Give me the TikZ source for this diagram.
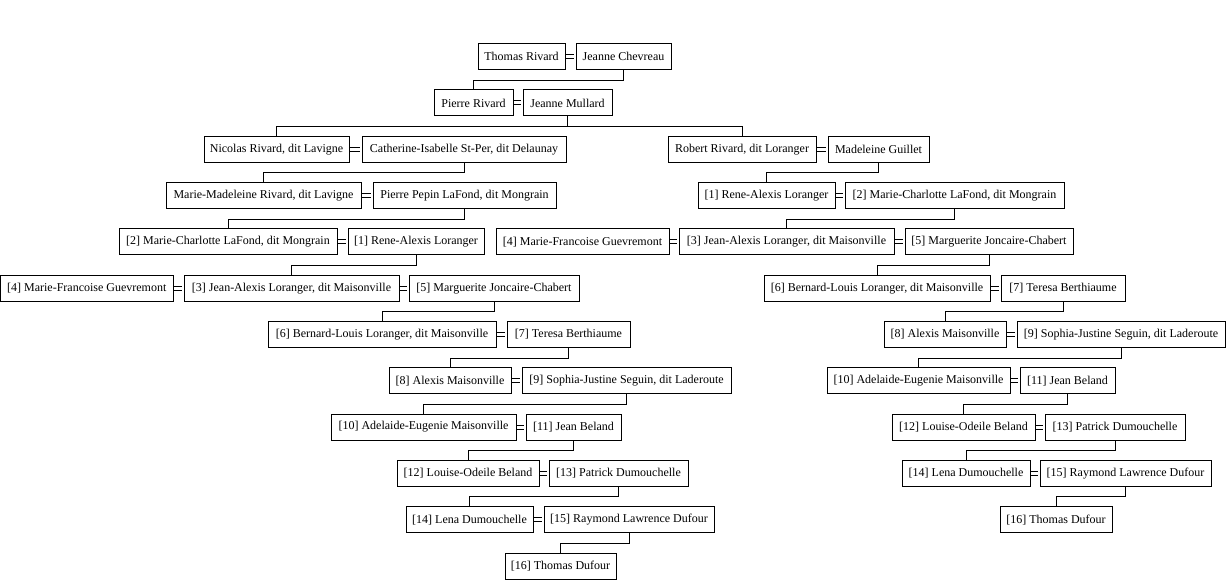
\documentclass[tikz,border=0pt]{standalone}
\usepackage{fontspec}
\setmainfont{Liberation Serif}
\begin{document}
\begin{tikzpicture}[x=1pt,y=-1pt,line width=1pt,
  pbox/.style={draw, line width=1pt, minimum width=#1, minimum height=26pt, inner sep=0pt,
    font=\fontsize{12pt}{14pt}\selectfont, anchor=center},
  marr/.style={double, double distance=3pt, line width=1pt, shorten <=0.5pt, shorten >=2pt},
  link/.style={line width=1pt}]
\useasboundingbox (0,0) rectangle (1228,580);
% row centres: 56.7 + 46.3(r-1)
% Row 1
\node[pbox=87pt] (tr) at (521.5,56.7) {Thomas Rivard};
\node[pbox=95pt] (jc) at (623.5,56.7) {Jeanne Chevreau};
% Row 2
\node[pbox=79pt] (pr) at (473.5,103.0) {Pierre Rivard};
\node[pbox=89pt] (jm) at (567.5,103.0) {Jeanne Mullard};
% Row 3
\node[pbox=145pt] (nr) at (276.5,149.3) {Nicolas Rivard, dit Lavigne};
\node[pbox=204pt] (ci) at (464,149.3) {Catherine-Isabelle St-Per, dit Delaunay};
\node[pbox=148pt] (rr) at (742,149.3) {Robert Rivard, dit Loranger};
\node[pbox=101pt] (mg) at (878.5,149.3) {Madeleine Guillet};
% Row 4
\node[pbox=195pt] (mm) at (263.5,195.6) {Marie-Madeleine Rivard, dit Lavigne};
\node[pbox=183pt] (pp) at (464.5,195.6) {Pierre Pepin LaFond, dit Mongrain};
\node[pbox=137pt] (raA) at (766.5,195.6) {[1] Rene-Alexis Loranger};
\node[pbox=219pt] (mcA) at (954.5,195.6) {[2] Marie-Charlotte LaFond, dit Mongrain};
% Row 5
\node[pbox=218pt] (mcB) at (228,241.9) {[2] Marie-Charlotte LaFond, dit Mongrain};
\node[pbox=136pt] (raB) at (416,241.9) {[1] Rene-Alexis Loranger};
\node[pbox=173pt] (mfA) at (582.5,241.9) {[4] Marie-Francoise Guevremont};
\node[pbox=215pt] (jaA) at (786.5,241.9) {[3] Jean-Alexis Loranger, dit Maisonville};
\node[pbox=168pt] (mjA) at (989,241.9) {[5] Marguerite Joncaire-Chabert};
% Row 6
\node[pbox=172.5pt] (mfB) at (86.75,288.2) {[4] Marie-Francoise Guevremont};
\node[pbox=215pt] (jaB) at (291.5,288.2) {[3] Jean-Alexis Loranger, dit Maisonville};
\node[pbox=170pt] (mjB) at (494,288.2) {[5] Marguerite Joncaire-Chabert};
\node[pbox=226pt] (blA) at (877,288.2) {[6] Bernard-Louis Loranger, dit Maisonville};
\node[pbox=124pt] (tbA) at (1063,288.2) {[7] Teresa Berthiaume};
% Row 7
\node[pbox=228pt] (blB) at (382,334.5) {[6] Bernard-Louis Loranger, dit Maisonville};
\node[pbox=123pt] (tbB) at (568.5,334.5) {[7] Teresa Berthiaume};
\node[pbox=122pt] (amA) at (945,334.5) {[8] Alexis Maisonville};
\node[pbox=208pt] (sjA) at (1121,334.5) {[9] Sophia-Justine Seguin, dit Laderoute};
% Row 8
\node[pbox=122pt] (amB) at (450,380.8) {[8] Alexis Maisonville};
\node[pbox=209pt] (sjB) at (626.5,380.8) {[9] Sophia-Justine Seguin, dit Laderoute};
\node[pbox=183pt] (aeA) at (918.5,380.8) {[10] Adelaide-Eugenie Maisonville};
\node[pbox=95pt] (jbA) at (1067.5,380.8) {[11] Jean Beland};
% Row 9
\node[pbox=185pt] (aeB) at (423.5,427.1) {[10] Adelaide-Eugenie Maisonville};
\node[pbox=95pt] (jbB) at (573.5,427.1) {[11] Jean Beland};
\node[pbox=143pt] (loA) at (963.5,427.1) {[12] Louise-Odeile Beland};
\node[pbox=140pt] (pdA) at (1115,427.1) {[13] Patrick Dumouchelle};
% Row 10
\node[pbox=142pt] (loB) at (468,473.4) {[12] Louise-Odeile Beland};
\node[pbox=139pt] (pdB) at (618.5,473.4) {[13] Patrick Dumouchelle};
\node[pbox=128pt] (ldA) at (966,473.4) {[14] Lena Dumouchelle};
\node[pbox=171pt] (rlA) at (1125.5,473.4) {[15] Raymond Lawrence Dufour};
% Row 11
\node[pbox=127pt] (ldB) at (469.5,519.7) {[14] Lena Dumouchelle};
\node[pbox=170pt] (rlB) at (629,519.7) {[15] Raymond Lawrence Dufour};
\node[pbox=112pt] (tdA) at (1056,519.7) {[16] Thomas Dufour};
% Row 12
\node[pbox=111pt] (tdB) at (560.5,566.0) {[16] Thomas Dufour};

% marriages
\foreach \a/\b in {tr/jc, pr/jm, nr/ci, rr/mg, mm/pp, raA/mcA, mcB/raB, mfA/jaA, jaA/mjA,
  mfB/jaB, jaB/mjB, blA/tbA, blB/tbB, amA/sjA, amB/sjB, aeA/jbA, aeB/jbB, loA/pdA, loB/pdB,
  ldA/rlA, ldB/rlB}
  \draw[marr] (\a.east) -- (\b.west);

% descent
\draw[link] (jm.south) -- ++(0,10) coordinate (jmdrop);
\draw[link] (nr.north) |- (jmdrop) -| (rr.north);
\foreach \p/\c in {jc/pr, ci/mm, pp/mcB, mg/raA, mcA/jaA, raB/jaB, mjA/blA, mjB/blB,
  tbA/amA, tbB/amB, sjA/aeA, sjB/aeB, jbA/loA, jbB/loB, pdA/ldA, pdB/ldB, rlA/tdA, rlB/tdB}
  \draw[link] (\p.south) -- ++(0,10) -| (\c.north);
\end{tikzpicture}
\end{document}
